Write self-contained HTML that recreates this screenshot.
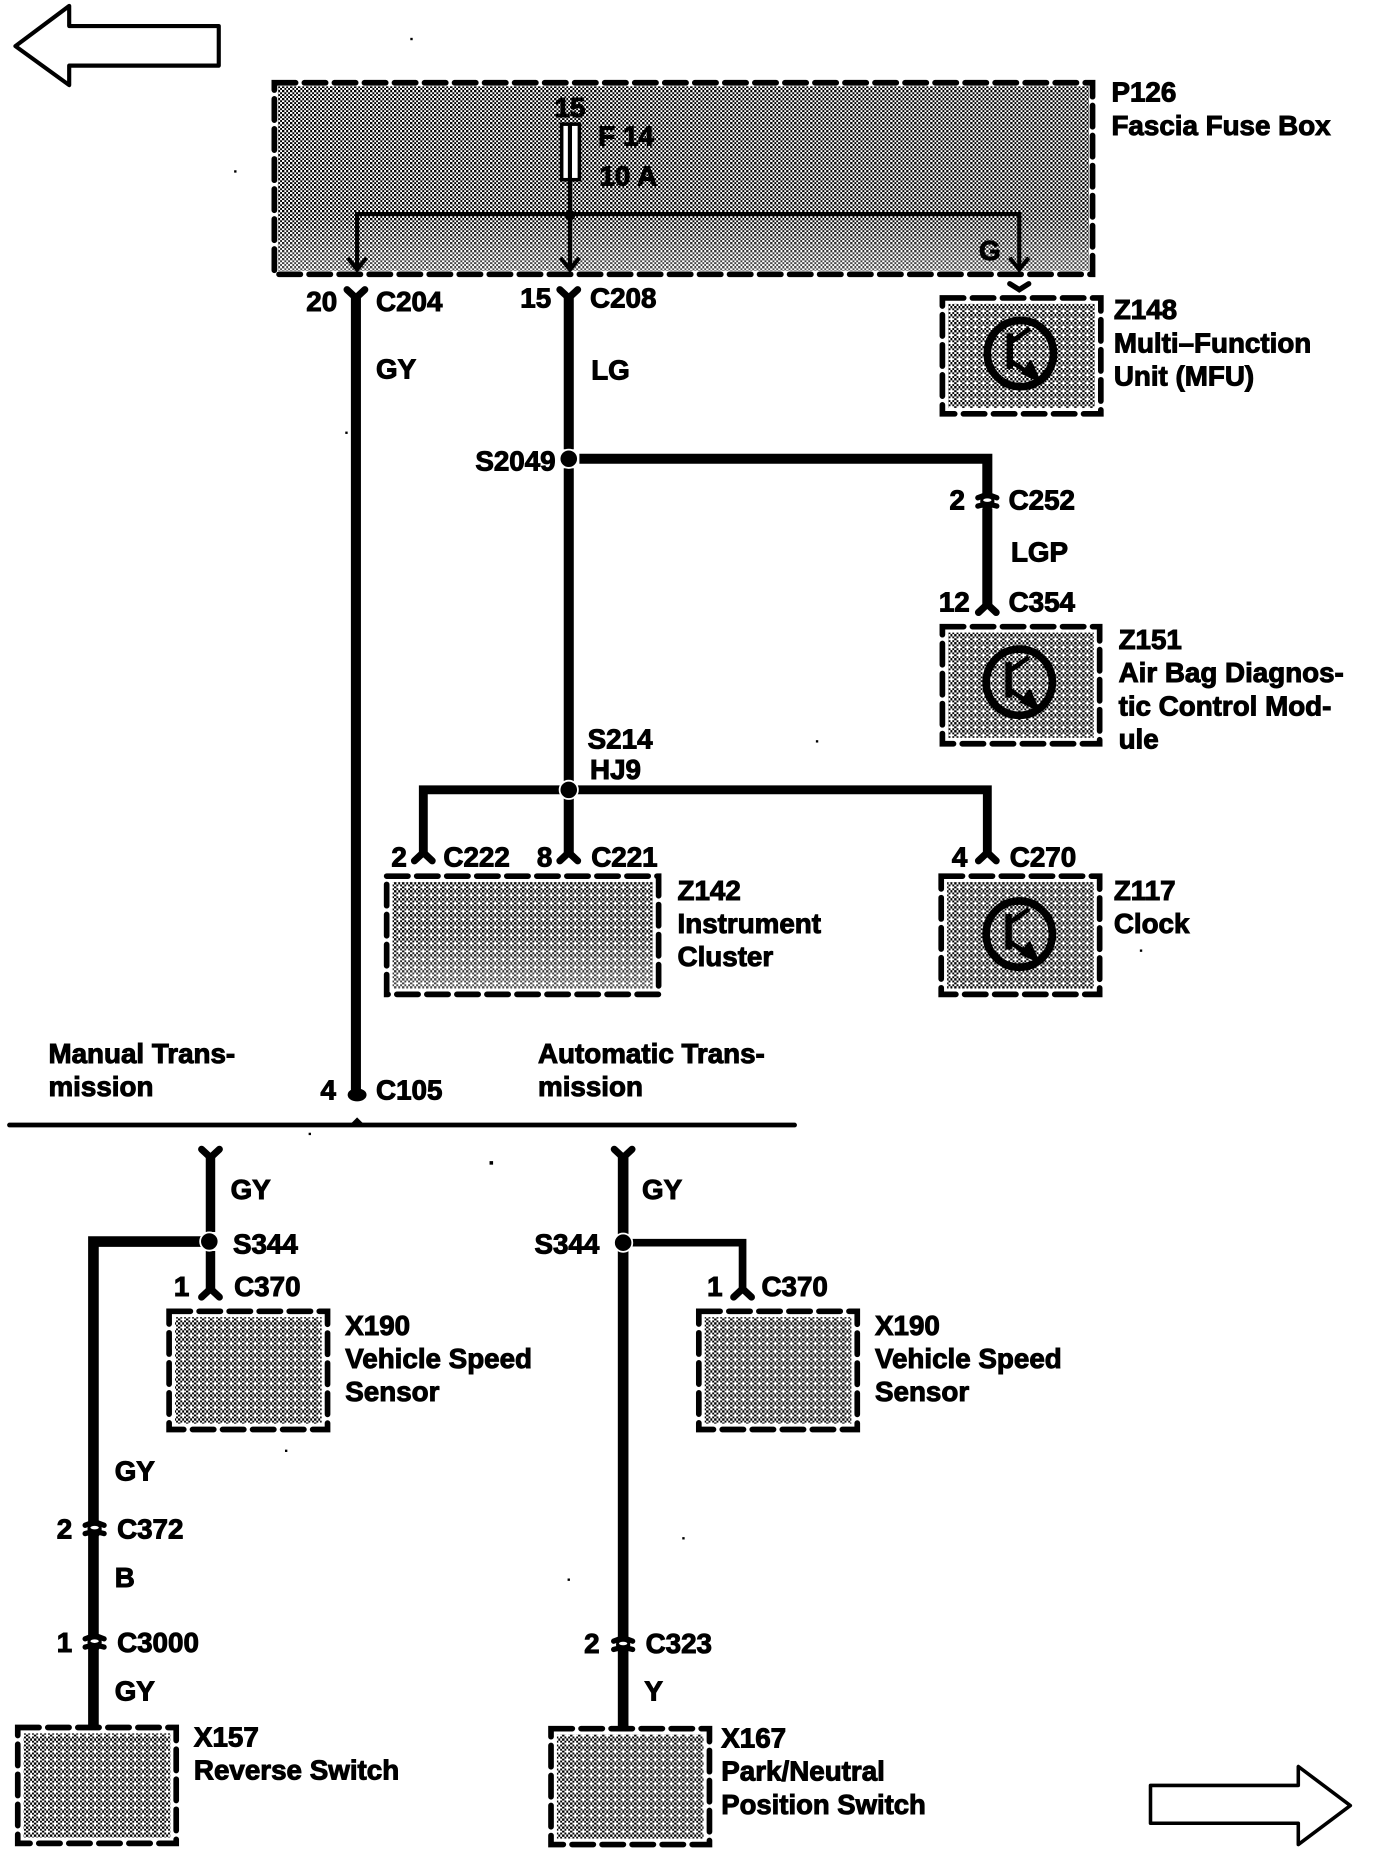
<!DOCTYPE html>
<html><head><meta charset="utf-8"><style>
html,body{margin:0;padding:0;background:#fff;width:1376px;height:1854px;overflow:hidden}
svg{display:block}
text{font-family:"Liberation Sans",sans-serif;font-weight:bold;font-size:23.5px;fill:#000;stroke:#000;stroke-width:.85px}
</style></head><body>
<svg width="1376" height="1854" viewBox="0 0 1163.7 1568">
<defs>
<pattern id="d" width="8" height="8" patternUnits="userSpaceOnUse" patternTransform="scale(.846)">
<rect width="8" height="8" fill="#fff"/>
<path shape-rendering="crispEdges" fill="#000" d="M0 0h2v2h-2zM4 0h2v2h-2zM2 2h2v2h-2zM6 2h2v2h-2zM0 4h2v2h-2zM4 4h2v2h-2zM2 6h2v2h-2zM6 6h2v2h-2z"/>
</pattern>
<pattern id="l" width="8" height="8" patternUnits="userSpaceOnUse" patternTransform="scale(.846)">
<rect width="8" height="8" fill="#fff"/>
<path shape-rendering="crispEdges" fill="#000" d="M0 0h2v2h-2zM4 0h2v2h-2zM2 2h2v2h-2zM6 2h2v2h-2zM0 4h2v2h-2zM4 4h2v2h-2zM2 6h2v2h-2z"/>
</pattern>
<linearGradient id="fade" x1="0" y1="0" x2="0" y2="1"><stop offset="0" stop-color="#fff" stop-opacity="0"/><stop offset="1" stop-color="#fff" stop-opacity=".3"/></linearGradient>
<g id="tr"><circle cx="0" cy="0" r="28" fill="none" stroke="#000" stroke-width="6.5"/><path d="M-9 -17V13" stroke="#000" stroke-width="5.5" fill="none"/><path d="M-9 -9L8 -21M-9 6L14 21" stroke="#000" stroke-width="4" fill="none"/><path d="M18 25L0 17L9 5Z" fill="#000"/></g>
<path id="y" d="M-7.5 -5L0 2L7.5 -5" fill="none" stroke="#000" stroke-width="6" stroke-linecap="round" stroke-linejoin="round"/>
<path id="iy" d="M-7.5 5L0 -2L7.5 5" fill="none" stroke="#000" stroke-width="6" stroke-linecap="round" stroke-linejoin="round"/>
<g id="cn"><ellipse rx="6" ry="7.5"/><path d="M-8 -3L0 -6L8 -3M-8 4L0 2L8 4" fill="none" stroke="#000" stroke-width="4.5" stroke-linecap="round"/><ellipse cy="-1" rx="3.5" ry="1.5" fill="#fff"/></g>
</defs>

<path d="M13 39L58.5 5V22H185V55.5H58.5V72Z" fill="#fff" stroke="#000" stroke-width="3.5" stroke-linejoin="round"/>
<path d="M1142 1527L1098 1494V1510H973V1542H1098V1560Z" fill="#fff" stroke="#000" stroke-width="3" stroke-linejoin="round"/>

<!-- box fills -->
<rect x="235" y="73" width="686" height="156" fill="url(#d)"/>
<rect x="235" y="182" width="686" height="47" fill="url(#fade)"/>
<g fill="url(#l)">
<rect x="802" y="257" width="124" height="88"/>
<rect x="802" y="535" width="123" height="89"/>
<rect x="801" y="746" width="124" height="90"/>
<rect x="332" y="746" width="220" height="90"/>
<rect x="148" y="1114" width="124" height="90"/>
<rect x="596" y="1114" width="124" height="90"/>
<rect x="20" y="1466" width="124" height="88"/>
<rect x="471" y="1467" width="124" height="88"/>
</g>
<rect x="332" y="790" width="220" height="46" fill="url(#fade)"/>
<!-- box outlines -->
<g fill="none" stroke="#000" stroke-width="4.8" stroke-dasharray="18 7.4" stroke-linecap="round">
<rect x="232" y="70" width="692" height="162"/>
<rect x="797" y="252" width="134" height="98"/>
<rect x="797" y="530" width="133" height="99"/>
<rect x="796" y="741" width="134" height="100"/>
<rect x="327" y="741" width="230" height="100"/>
<rect x="143" y="1109" width="134" height="100"/>
<rect x="591" y="1109" width="134" height="100"/>
<rect x="15" y="1461" width="134" height="98"/>
<rect x="466" y="1462" width="134" height="98"/>
</g>

<!-- fuse box internals -->
<rect x="475" y="105" width="15" height="47" fill="#fff" stroke="#000" stroke-width="3"/>
<path d="M482 105V152" stroke="#000" stroke-width="3.5"/>
<path d="M482 152V228M302 226V181H862V226" fill="none" stroke="#000" stroke-width="3.5"/>
<circle cx="482" cy="182" r="4.5"/>
<path d="M294 218L302 228L310 218M474 218L482 228L490 218M854 218L862 228L870 218" fill="none" stroke="#000" stroke-width="3.5"/>
<path d="M854 240L862 245L870 240" fill="none" stroke="#000" stroke-width="4.5" stroke-linecap="round"/>

<!-- main wires -->
<g fill="none" stroke="#000">
<path d="M301 248V925" stroke-width="8.5"/>
<path d="M481 248V380M481 396V722" stroke-width="8.5"/>
<path d="M490 388H835V420M835 430V514" stroke-width="8.5"/>
<path d="M835 722V668H358V722" stroke-width="7.5"/>
<path d="M8 951.5H672" stroke-width="4" stroke-linecap="round"/>
<path d="M178 975V1042M178 1058V1092" stroke-width="8"/>
<path d="M170 1050H79V1460" stroke-width="9"/>
<path d="M527 975V1460" stroke-width="9"/>
<path d="M535 1051H628V1092" stroke-width="6.5"/>
</g>
<use href="#y" x="301" y="250"/><use href="#y" x="481" y="250"/>
<use href="#iy" x="358" y="723"/><use href="#iy" x="481" y="723"/><use href="#iy" x="835" y="723"/>
<use href="#iy" x="835" y="513"/><use href="#iy" x="178" y="1092"/><use href="#iy" x="628" y="1092"/>
<use href="#y" x="178" y="977"/><use href="#y" x="527" y="977"/>
<use href="#cn" x="835" y="424"/><use href="#cn" x="80" y="1293"/><use href="#cn" x="80" y="1389"/><use href="#cn" x="527" y="1391"/>
<g stroke="#fff" stroke-width="1.5"><circle cx="481" cy="388" r="7.75"/><circle cx="481" cy="668" r="7.75"/><circle cx="177" cy="1050" r="7.75"/><circle cx="527" cy="1051" r="7.75"/></g>
<ellipse cx="302" cy="926" rx="8" ry="5.5"/>
<path d="M296 951L302 945L308 951Z"/>

<use href="#tr" x="863" y="299"/><use href="#tr" x="862" y="577"/><use href="#tr" x="862" y="790"/>

<!-- specks -->
<g><rect x="347" y="32" width="2" height="2"/><rect x="198" y="144" width="2" height="2"/><rect x="292" y="365" width="2" height="2"/><rect x="690" y="626" width="2" height="2"/><rect x="964" y="803" width="2" height="2"/><rect x="261" y="958" width="2" height="2"/><rect x="414" y="982" width="3" height="3"/><rect x="241" y="1226" width="2" height="2"/><rect x="577" y="1300" width="2" height="2"/><rect x="480" y="1335" width="2" height="2"/></g>

<text x="940" y="86">P126</text><text x="940" y="114">Fascia Fuse Box</text>
<text x="469" y="99">15</text><text x="506" y="123">F 14</text><text x="507" y="157">10 A</text><text x="828" y="220">G</text>
<text x="259" y="263">20</text><text x="318" y="263">C204</text><text x="318" y="320">GY</text>
<text x="440" y="260">15</text><text x="499" y="260">C208</text><text x="500" y="321">LG</text>
<text x="402" y="398">S2049</text>
<text x="803" y="431">2</text><text x="853" y="431">C252</text><text x="855" y="475">LGP</text>
<text x="794" y="517">12</text><text x="853" y="517">C354</text>
<text x="942" y="270">Z148</text><text x="942" y="298">Multi–Function</text><text x="942" y="326">Unit (MFU)</text>
<text x="946" y="549">Z151</text><text x="946" y="577">Air Bag Diagnos-</text><text x="946" y="605">tic Control Mod-</text><text x="946" y="633">ule</text>
<text x="497" y="633">S214</text><text x="499" y="659">HJ9</text>
<text x="331" y="733">2</text><text x="375" y="733">C222</text><text x="454" y="733">8</text><text x="500" y="733">C221</text><text x="805" y="733">4</text><text x="854" y="733">C270</text>
<text x="573" y="761">Z142</text><text x="573" y="789">Instrument</text><text x="573" y="817">Cluster</text>
<text x="942" y="761">Z117</text><text x="942" y="789">Clock</text>
<text x="41" y="899">Manual Trans-</text><text x="41" y="927">mission</text>
<text x="271" y="930">4</text><text x="318" y="930">C105</text>
<text x="455" y="899">Automatic Trans-</text><text x="455" y="927">mission</text>
<text x="195" y="1014">GY</text><text x="197" y="1060">S344</text><text x="147" y="1096">1</text><text x="198" y="1096">C370</text>
<text x="292" y="1129">X190</text><text x="292" y="1157">Vehicle Speed</text><text x="292" y="1185">Sensor</text>
<text x="543" y="1014">GY</text><text x="452" y="1060">S344</text><text x="598" y="1096">1</text><text x="644" y="1096">C370</text>
<text x="740" y="1129">X190</text><text x="740" y="1157">Vehicle Speed</text><text x="740" y="1185">Sensor</text>
<text x="97" y="1252">GY</text><text x="48" y="1301">2</text><text x="99" y="1301">C372</text><text x="97" y="1342">B</text>
<text x="48" y="1397">1</text><text x="99" y="1397">C3000</text><text x="97" y="1438">GY</text>
<text x="164" y="1477">X157</text><text x="164" y="1505">Reverse Switch</text>
<text x="494" y="1398">2</text><text x="546" y="1398">C323</text><text x="545" y="1438">Y</text>
<text x="610" y="1478">X167</text><text x="610" y="1506">Park/Neutral</text><text x="610" y="1534" textLength="173" lengthAdjust="spacingAndGlyphs">Position Switch</text>
</svg>
</body></html>
